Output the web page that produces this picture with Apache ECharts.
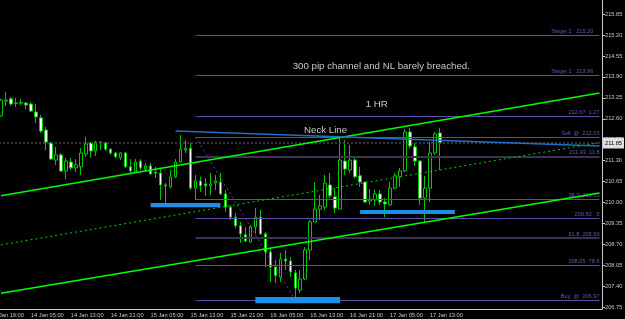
<!DOCTYPE html>
<html>
<head>
<meta charset="utf-8">
<script src="https://cdn.jsdelivr.net/npm/echarts@6/dist/echarts.min.js"></script>
<style>html,body{margin:0;padding:0;background:#000;}#c{width:625px;height:319px;}</style>
</head>
<body>
<div id="c"></div>
<script>
// ---- data (hourly bars) ----
const open = [212.69,213.15,213.22,213.09,213.10,213.09,213.06,212.81,212.63,212.25,
211.85,211.32,211.48,210.98,211.26,211.08,211.11,211.51,211.85,211.60,
211.85,211.85,211.66,211.54,211.39,211.54,211.11,210.95,211.29,211.04,
211.14,210.95,210.92,210.55,210.49,210.80,211.26,211.63,211.69,210.45,
210.67,210.58,210.52,210.61,210.64,210.27,209.86,209.55,209.28,209.00,
208.78,209.25,209.55,209.03,208.47,208.00,207.69,208.25,208.19,207.82,
207.29,207.63,208.53,209.40,209.80,209.86,210.55,210.18,209.80,211.29,
211.01,211.32,210.83,210.64,210.05,210.08,210.27,210.02,209.93,210.45,
210.80,210.98,212.19,211.73,211.29,210.14,210.45,211.54,212.16];
const close = [213.18,213.18,213.06,213.08,213.09,213.03,212.84,212.66,212.22,211.88,
211.35,211.48,210.98,211.29,211.08,211.17,211.54,211.82,211.60,211.88,
211.88,211.66,211.54,211.42,211.54,211.11,210.98,211.26,211.08,211.14,
210.89,210.92,210.55,210.52,210.80,211.26,211.66,211.69,210.45,210.67,
210.52,210.52,210.58,210.67,210.27,209.86,209.55,209.28,209.03,208.81,
209.25,209.55,209.03,208.47,208.00,207.73,208.25,208.19,207.85,207.35,
207.63,208.53,209.40,209.80,209.90,210.61,210.21,209.83,211.32,211.04,
211.32,210.80,210.64,210.02,210.11,210.27,210.02,209.96,210.45,210.83,
210.98,212.19,211.76,211.29,210.14,210.45,211.54,212.13,211.85];
const low = [212.66,213.00,213.00,212.97,213.03,212.91,212.81,212.47,212.16,211.63,
211.32,211.17,210.95,210.73,211.01,210.95,210.86,211.42,211.39,211.45,
211.63,211.60,211.48,211.39,211.32,211.08,210.92,210.92,211.01,210.95,
210.86,210.76,210.08,209.99,210.45,210.76,211.23,211.54,210.39,210.08,
210.33,210.21,210.24,210.39,210.24,209.71,209.46,209.21,208.75,208.78,
208.75,209.03,209.00,208.00,207.54,207.51,207.54,207.91,207.69,206.98,
207.20,207.60,208.22,209.40,209.46,209.77,210.14,209.68,209.80,210.86,
210.92,210.76,210.49,209.99,209.93,209.90,209.93,209.55,209.90,210.42,
210.49,210.95,211.69,211.14,209.93,209.40,210.02,211.48,211.01];
const high = [213.22,213.43,213.28,213.25,213.22,213.12,213.12,213.06,212.72,212.35,
211.88,211.73,211.54,211.39,211.39,211.35,211.69,212.04,211.88,211.91,
211.90,211.88,211.69,211.57,211.57,211.57,211.35,211.35,211.35,211.23,
211.23,211.11,211.08,210.61,211.01,211.35,212.10,211.94,211.85,210.86,
210.80,210.76,210.92,210.86,210.92,210.39,209.93,209.68,209.40,209.25,
209.31,209.83,209.77,209.09,208.59,208.22,208.44,208.53,208.31,207.91,
207.91,208.62,209.46,210.64,210.24,210.86,210.92,210.45,212.04,211.94,
211.79,211.39,211.11,210.64,210.42,210.39,210.39,210.14,210.64,210.92,
211.08,212.29,212.32,211.85,211.32,210.83,211.88,212.19,212.32];

const xTickLabels = ['13 Jan 19:00','14 Jan 05:00','14 Jan 13:00','14 Jan 21:00','15 Jan 05:00','15 Jan 13:00',
  '15 Jan 21:00','16 Jan 05:00','16 Jan 13:00','16 Jan 21:00','17 Jan 05:00','17 Jan 13:00'];
const yTicks = [206.75,207.40,208.05,208.70,209.35,210.00,210.65,211.30,211.95,212.60,213.25,213.90,214.55,215.20,215.85];

const fibPrices = [215.20,213.96,212.67,212.03,211.43,210.10,209.50,208.90,208.05,206.97];
const fibLabels = ['Target 2   215.20    ','Target 1   213.96    ','212.67  1.27','Sell  @  212.03','211.43  11.8',
  '38.2  210.10','209.50  .5','61.8  208.90','208.05  78.6','Buy  @  206.97'];
const fibStartBar = 39, fibEndBar = 120;

const channelBars = [0, 120];
const channelUpper = [210.21, 213.40];
const channelMid = [208.69, 211.86];
const channelLower = [207.19, 210.30];
const neckBars = [35, 120];
const neckLine = [212.22, 211.76];
const fibDiagBars = [39, 59];
const fibDiag = [212.04, 206.98];

const zoneStart = [30, 51, 72];
const zoneEnd = [44, 68, 91];
const zoneLow = [209.86, 206.88, 209.65];
const zoneHigh = [209.99, 207.07, 209.77];

const bidPrice = 211.85;
// ---------------------------------------------

const LEAD = 2, N = 123, STEP = 8;
const cats = Array.from({length: N}, (_, k) => String(k));
const candles = cats.map((_, k) => {
  const i = k - LEAD;
  return (i >= 0 && i < open.length) ? [open[i], close[i], low[i], high[i]] : '-';
});
const pair = (bars, vals) => bars.map((b, j) => [b + LEAD, vals[j]]);
const FONT = "'Liberation Sans', Arial, sans-serif";
const darkIdx = new Set([4, 7]);

const chart = echarts.init(document.getElementById('c'), null, {renderer: 'canvas'});
chart.setOption({
  backgroundColor: '#000',
  animation: false,
  grid: {left: -11.5, right: 23, top: 0, bottom: 10, containLabel: false, outerBoundsMode: 'none'},
  xAxis: {
    type: 'category', data: cats, boundaryGap: true,
    axisLine: {lineStyle: {color: '#c8c8c8', width: 1}},
    axisTick: {alignWithLabel: true, length: 3, interval: (idx) => idx % STEP === 0, lineStyle: {color: '#c8c8c8'}},
    axisLabel: {
      interval: (idx) => idx % STEP === 0, align: 'left', margin: 3, hideOverlap: false,
      color: '#c8c8c8', fontSize: 5.7, fontFamily: FONT,
      formatter: (v, idx) => xTickLabels[idx / STEP] || ''
    },
    splitLine: {show: false}
  },
  yAxis: {
    type: 'value', position: 'right', min: 206.70, max: 216.286, scale: true,
    axisLine: {show: true, lineStyle: {color: '#c8c8c8', width: 1}},
    axisTick: {show: true, length: 3, customValues: yTicks, lineStyle: {color: '#c8c8c8'}},
    axisLabel: {customValues: yTicks, margin: 3, color: '#c8c8c8', fontSize: 5.7, fontFamily: FONT,
      formatter: (v) => v.toFixed(2)},
    splitLine: {show: false}
  },
  series: [
    {
      type: 'candlestick', data: candles, barWidth: 3, z: 2,
      itemStyle: {color: '#000', color0: '#ffffff', borderColor: '#00c800', borderColor0: '#00c800', borderWidth: 1}
    },
    {
      type: 'line', data: pair(channelBars, channelUpper), symbol: 'none', z: 5,
      lineStyle: {color: '#00ff00', width: 1.5}
    },
    {
      type: 'line', data: pair(channelBars, channelLower), symbol: 'none', z: 5,
      lineStyle: {color: '#00ff00', width: 1.5}
    },
    {
      type: 'line', data: pair(channelBars, channelMid), symbol: 'none', z: 5,
      lineStyle: {color: '#00d000', width: 1, type: [2, 3]}
    },
    {
      type: 'line', data: pair(fibDiagBars, fibDiag), symbol: 'none', z: 4,
      lineStyle: {color: '#5a4e8e', width: 1, type: [2, 3]}
    },
    {
      type: 'line', data: pair(neckBars, neckLine), symbol: 'none', z: 6,
      lineStyle: {color: '#1f6fc8', width: 1.5},
      markArea: {
        silent: true, z: 7,
        itemStyle: {color: '#1e8ee8', opacity: 1},
        data: zoneStart.map((s, j) => [{coord: [s + LEAD, zoneHigh[j]]}, {coord: [zoneEnd[j] + LEAD, zoneLow[j]]}])
      },
      markLine: {
        silent: true, symbol: 'none', z: 3,
        data: fibPrices.map((p, j) => [
          {coord: [fibStartBar + LEAD, p],
           lineStyle: {color: darkIdx.has(j) ? '#3a3356' : '#5a4ea6', width: darkIdx.has(j) ? 2 : 1, type: 'solid'},
           label: {show: true, position: 'insideEndTop', distance: [0, 1], formatter: fibLabels[j],
             color: '#6458b4', fontSize: 5.6, fontFamily: FONT}},
          {coord: [fibEndBar + LEAD, p]}
        ]).concat([[
          {coord: [0, bidPrice], lineStyle: {color: '#4a4a58', width: 1.5, type: [2, 2]},
           label: {show: false}},
          {coord: [N - 1, bidPrice]}
        ]])
      }
    }
  ]
});
// text annotations and bid price box on the price axis
const bp = chart.convertToPixel({gridIndex: 0}, [N - 1, bidPrice]);
chart.setOption({graphic: [
  {type: 'text', left: 292.7, top: 61, z: 50, style: {text: '300 pip channel and NL barely breached.', fill: '#c8c8c8', font: '9.7px ' + FONT}},
  {type: 'text', left: 365.7, top: 99.5, z: 50, style: {text: '1 HR', fill: '#c8c8c8', font: '9.7px ' + FONT}},
  {type: 'text', left: 304, top: 125, z: 50, style: {text: 'Neck Line', fill: '#c8c8c8', font: '9.7px ' + FONT}},
  {type: 'text', x: 603, y: bp[1], z: 60, style: {text: bidPrice.toFixed(2), fill: '#000', backgroundColor: '#e0e0e0',
    padding: [3, 2, 2, 2], font: '5.7px ' + FONT, verticalAlign: 'middle'}}
]});
</script>
</body>
</html>
